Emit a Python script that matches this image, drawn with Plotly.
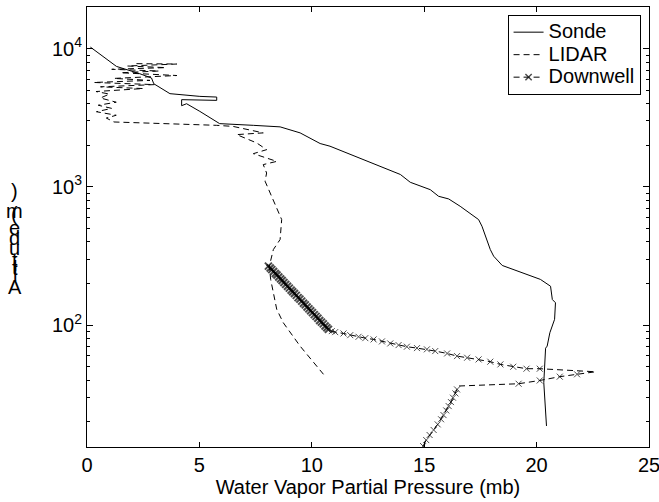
import plotly.graph_objects as go
import math

# Sonde profile (x = water vapor partial pressure mb, y = altitude m)
sonde_x = [0.15, 1.31, 2.35, 2.87, 2.97, 3.39, 3.69, 5.02, 5.77, 5.77, 4.21, 4.21, 4.43, 5.02, 5.90,
           7.40, 8.59, 9.48, 10.37, 10.81, 12.30, 13.94, 14.38, 15.27, 15.64, 16.09, 16.60, 17.42,
           17.57, 17.94, 18.09, 18.47, 20.17, 20.62, 20.70, 20.84, 20.80, 20.59, 20.47, 20.40,
           20.32, 20.40, 20.44]
sonde_y = [10280, 7450, 6590, 6140, 5580, 5060, 4730, 4520, 4470, 4230, 4280, 3870, 4000, 3520, 2870,
           2790, 2720, 2460, 2060, 1970, 1580, 1230, 1080, 955, 855, 818, 724, 580,
           519, 352, 315, 270, 214, 191, 153, 145, 110, 88, 70.4, 68,
           38.3, 25.9, 18.6]

# LIDAR profile
lidar_x = [2.2, 4.0, 1.8, 3.5, 1.1, 3.2, 1.5, 4.0, 1.2, 2.8, 0.3, 3.0, 0.6, 2.5, 0.4, 1.0, 0.6,
           1.3, 0.5, 1.1, 0.42, 1.3, 0.86, 1.2, 5.77, 6.5, 7.84, 6.66, 7.55, 7.99, 7.40, 8.44,
           7.84, 7.99, 7.92, 8.29, 8.66, 8.59, 8.29, 8.11, 8.17, 8.44, 8.73, 9.48, 10.52]
lidar_y = [7800, 7750, 7500, 7300, 7100, 6900, 6700, 6400, 6100, 5900, 5700, 5500, 5300, 5150, 4900,
           4700, 4400, 4100, 3900, 3700, 3500, 3300, 3150, 2950, 2790, 2740, 2460, 2390, 2080,
           1860, 1740, 1530, 1450, 1260, 1100, 810, 580, 416, 352, 267, 214, 130, 104, 70.4, 44]

# Downwell profile
down_x = [8.07, 8.15, 8.22, 8.30, 8.38, 8.45, 8.53, 8.61, 8.68, 8.76, 8.84, 8.92, 9.00, 9.08,
          9.15, 9.23, 9.31, 9.39, 9.47, 9.55, 9.63, 9.71, 9.79, 9.87, 9.95, 10.03, 10.11, 10.19,
          10.27, 10.35, 10.43, 10.51, 10.59, 10.67, 10.74,
          10.89, 11.04, 11.41, 11.71, 12.08, 12.38, 12.75, 13.12, 13.49, 13.86, 14.23, 14.68,
          15.12, 15.49, 16.02, 16.46, 16.91, 17.42, 17.94, 18.39, 18.96, 19.55, 20.14,
          22.62, 21.80, 21.03, 20.14, 19.20,
          16.53, 16.46, 16.39, 16.28, 16.19, 16.09, 15.98, 15.86, 15.75, 15.60, 15.42, 15.24,
          15.09, 14.95]
down_y = [267, 259, 252, 244, 236, 230, 223, 216, 210, 203, 197, 191, 185, 179,
          174, 169, 164, 158, 154, 149, 144, 140, 135, 131, 127, 123, 119, 115.5,
          112, 108, 105, 102, 98.5, 95.5, 93,
          90.4, 88.9, 86.9, 84.5, 82.2, 80.4, 78.7, 76.1, 73.6, 71.6, 69.7, 68.1,
          66.7, 64.8, 62.3, 59.6, 58.0, 56.4, 54.3, 51.9, 49.9, 48.3, 48.3,
          45.9, 44.0, 42.3, 39.7, 37.6,
          36.2, 34.2, 32.0, 29.8, 27.7, 25.9, 24.1, 22.3, 20.8, 19.1, 17.4, 16.0,
          14.7, 13.3]
down_marker_size = [7] * 35 + [6] * 23 + [0] + [6] * 4 + [0] + [6] * 13
down_marker_lw = [2] * 35 + [1] * 23 + [1] + [1] * 4 + [1] + [1] * 13

x_ticks = [0, 5, 10, 15, 20, 25]
y_ticks = [100, 1000, 10000]
y_ticktext = ["10<sup>2</sup>", "10<sup>3</sup>", "10<sup>4</sup>"]
y_minor = [m * 10 ** k for k in (1, 2, 3, 4) for m in range(2, 10)]
y_title_chars = ["A", "l", "t", "i", "t", "u", "d", "e", "(", "m", ")"]
series_names = ["Sonde", "LIDAR", "Downwell"]

FONT = "Liberation Sans, Arial, sans-serif"


def legend_label(s):
    return "<span style='font-size:20px'>" + s + "</span>"


fig = go.Figure()
fig.add_trace(go.Scatter(x=sonde_x, y=sonde_y, mode="lines", name=legend_label(series_names[0]),
                         line=dict(color="black", width=1)))
fig.add_trace(go.Scatter(x=lidar_x, y=lidar_y, mode="lines", name=legend_label(series_names[1]),
                         line=dict(color="black", width=1, dash="6px,4px")))
fig.add_trace(go.Scatter(x=down_x, y=down_y, mode="lines+markers", name=legend_label(series_names[2]),
                         line=dict(color="black", width=1, dash="6px,4px"),
                         marker=dict(symbol="x-thin", size=down_marker_size, color="black",
                                     line=dict(width=down_marker_lw, color="black"))))

# y-axis title drawn as stacked upright characters
title_py = [287, 274, 268, 264, 260, 248, 238, 228, 214, 211, 191]
plot_top, plot_bot = 7.3, 447.3
for ch, py in zip(y_title_chars, title_py):
    fig.add_annotation(text=ch, xref="paper", yref="paper",
                       x=(15 - 87.3) / 562.0, y=(plot_bot - py) / (plot_bot - plot_top),
                       showarrow=False, xanchor="center", yanchor="middle",
                       font=dict(family=FONT, size=20, color="black"))

fig.update_layout(
    width=659, height=502,
    margin=dict(l=87, r=10, t=7, b=55, autoexpand=False),
    paper_bgcolor="white", plot_bgcolor="white",
    font=dict(family=FONT, size=20, color="black"),
    showlegend=True,
    legend=dict(x=0.985, y=0.982, xanchor="right", yanchor="top",
                bgcolor="white", bordercolor="black", borderwidth=1,
                font=dict(family=FONT, size=15, color="black"),
                tracegroupgap=0, itemwidth=30),
    xaxis=dict(range=[0, 25], tickvals=x_ticks, ticks="inside", ticklen=5,
               tickcolor="black", showline=True, linecolor="black", linewidth=1,
               mirror="ticks", showgrid=False, zeroline=False, ticklabeloverflow="allow",
               automargin=False,
               title=dict(text="Water Vapor Partial Pressure (mb)", standoff=4,
                          font=dict(family=FONT, size=20))),
    yaxis=dict(type="log", range=[math.log10(13.1), math.log10(20050)],
               tickvals=y_ticks, ticktext=y_ticktext, ticks="inside", ticklen=6,
               tickcolor="black", showline=True, linecolor="black", linewidth=1,
               mirror="ticks", showgrid=False, zeroline=False, automargin=False,
               minor=dict(tickmode="array", tickvals=y_minor, ticks="inside",
                          ticklen=3, tickcolor="black", showgrid=False)),
)

fig.write_html("out.html")
